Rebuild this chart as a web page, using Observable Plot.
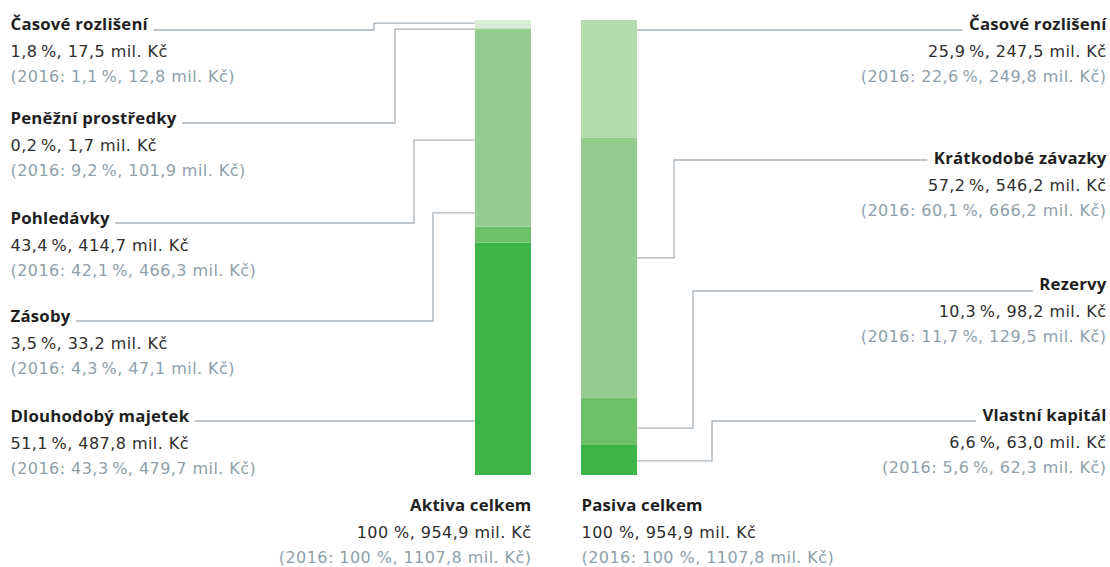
<!DOCTYPE html>
<html>
<head>
<meta charset="utf-8">
<script src="https://cdn.jsdelivr.net/npm/d3@7"></script>
<script src="https://cdn.jsdelivr.net/npm/@observablehq/plot@0.6"></script>
<style>
  html, body { margin: 0; padding: 0; background: #ffffff; }
  #chart { width: 1110px; height: 567px; }
  svg { font-family: "Open Sans", sans-serif; }
</style>
</head>
<body>
<div id="chart"></div>
<script>
// ---------- DATA (stack order: bottom to top) ----------
const sides = ["Aktiva", "Pasiva"];
const sideTitles = ["Aktiva celkem", "Pasiva celkem"];

const aktivaCategories = ["Dlouhodobý majetek", "Zásoby", "Pohledávky", "Peněžní prostředky", "Časové rozlišení"];
const aktivaShare      = [51.1, 3.5, 43.4, 0.2, 1.8];
const aktivaValue      = [487.8, 33.2, 414.7, 1.7, 17.5];
const aktivaShare2016  = [43.3, 4.3, 42.1, 9.2, 1.1];
const aktivaValue2016  = [479.7, 47.1, 466.3, 101.9, 12.8];

const pasivaCategories = ["Vlastní kapitál", "Rezervy", "Krátkodobé závazky", "Časové rozlišení"];
const pasivaShare      = [6.6, 10.3, 57.2, 25.9];
const pasivaValue      = [63.0, 98.2, 546.2, 247.5];
const pasivaShare2016  = [5.6, 11.7, 60.1, 22.6];
const pasivaValue2016  = [62.3, 129.5, 666.2, 249.8];

// ---------- STYLE ----------
const aktivaColors = ["#3bb54a", "#6cc067", "#93cc8c", "#b4dbae", "#d8ecd5"];
const pasivaColors = ["#3bb54a", "#6cc067", "#93cc8c", "#b4dbae"];
const titleColor = "#1f1f1f";
const valueColor = "#2e2e2e";
const oldColor = "#8e9fab";
const leaderColor = "#a7b3bb";
const titleFont = "Open Sans";
const titleSize = 16.8;
const titleSpacing = 0.2;
const bodyFont = "DejaVu Sans";
const bodySize = 16;
const bodySpacing = 0.45;

// ---------- LAYOUT (pixels / percent anchors) ----------
const W = 1110, H = 567;
const barRange = [474, 638];
const yRange = [475, 20];
const leftTextX = 10, rightTextX = 1106;
const leftBaseline  = [421, 321, 223, 123, 29];
const leftLeaderY   = [421, 321, 223, 123, 30];
const leftElbowX    = [null, 433, 414, 395, 374];
const leftAnchorPct = [null, 57.6, 73.6, 98.0, 99.3];
const rightBaseline  = [420, 289, 163, 29];
const rightLeaderY   = [421, 291, 160, 30];
const rightElbowX    = [712, 693, 674, null];
const rightAnchorPct = [3.1, 10.3, 47.7, null];
const totalBaseline = 510;
const totalX = [531, 581];
const lineStep1 = 27, lineStep2 = 52;

// ---------- helpers ----------
const num = v => v.toFixed(1).replace(".", ",");
const pct = v => num(v) + "\u2009%";
const line1 = (s, v) => `${pct(s)}, ${num(v)} mil. Kč`;
const line2 = (s, v) => `(2016: ${pct(s)}, ${num(v)} mil. Kč)`;
const totalLine1 = k => `${Math.round(d3.sum(k === "a" ? aktivaShare : pasivaShare))} %, ${num(d3.sum(k === "a" ? aktivaValue : pasivaValue))} mil. Kč`;
const totalLine2 = k => `(2016: ${Math.round(d3.sum(k === "a" ? aktivaShare2016 : pasivaShare2016))} %, ${num(d3.sum(k === "a" ? aktivaValue2016 : pasivaValue2016))} mil. Kč)`;

const rows = [
  ...aktivaCategories.map((c, i) => ({side: sides[0], category: c, share: aktivaShare[i], color: aktivaColors[i]})),
  ...pasivaCategories.map((c, i) => ({side: sides[1], category: c, share: pasivaShare[i], color: pasivaColors[i]}))
];

// text lines
const texts = [];
const addGroup = (title, l1, l2, x, y, a) => {
  texts.push({t: title, x, y, a, bold: true, f: titleColor});
  texts.push({t: l1, x, y: y + lineStep1, a, bold: false, f: valueColor});
  texts.push({t: l2, x, y: y + lineStep2, a, bold: false, f: oldColor});
};
aktivaCategories.forEach((c, i) =>
  addGroup(c, line1(aktivaShare[i], aktivaValue[i]), line2(aktivaShare2016[i], aktivaValue2016[i]), leftTextX, leftBaseline[i], "start"));
pasivaCategories.forEach((c, i) =>
  addGroup(c, line1(pasivaShare[i], pasivaValue[i]), line2(pasivaShare2016[i], pasivaValue2016[i]), rightTextX, rightBaseline[i], "end"));
["a", "p"].forEach((k, j) =>
  addGroup(sideTitles[j], totalLine1(k), totalLine2(k), totalX[j], totalBaseline, j === 0 ? "end" : "start"));

const textMarks = texts.map(d => Plot.text([d.t], {
  text: s => s, frameAnchor: "top-left", dx: d.x, dy: d.y,
  textAnchor: d.a, lineAnchor: "bottom",
  fontFamily: d.bold ? titleFont : bodyFont,
  fontSize: d.bold ? titleSize : bodySize,
  fontWeight: d.bold ? "bold" : "normal",
  fill: d.f
}));

// measure title widths for leader starts
const ctx = document.createElement("canvas").getContext("2d");
const measure = (t) => {
  ctx.font = `bold ${titleSize}px "${titleFont}"`;
  return ctx.measureText(t).width + titleSpacing * t.length;
};

function leaders(index, scales) {
  const g = d3.create("svg:g").attr("fill", "none").attr("stroke", leaderColor).attr("stroke-width", 1.3);
  const bw = scales.x.bandwidth ? scales.x.bandwidth() : 0;
  const leftBar = scales.x(sides[0]);
  const rightBar = scales.x(sides[1]) + bw;
  const gap = 6;
  aktivaCategories.forEach((c, i) => {
    const x0 = leftTextX + measure(c) + gap;
    const ly = leftLeaderY[i];
    let pts;
    if (leftElbowX[i] == null) pts = [[x0, ly], [leftBar, ly]];
    else {
      const ay = scales.y(leftAnchorPct[i]);
      pts = [[x0, ly], [leftElbowX[i], ly], [leftElbowX[i], ay], [leftBar, ay]];
    }
    g.append("path").attr("d", d3.line()(pts));
  });
  pasivaCategories.forEach((c, i) => {
    const x0 = rightTextX - measure(c) - gap;
    const ly = rightLeaderY[i];
    let pts;
    if (rightElbowX[i] == null) pts = [[x0, ly], [rightBar, ly]];
    else {
      const ay = scales.y(rightAnchorPct[i]);
      pts = [[x0, ly], [rightElbowX[i], ly], [rightElbowX[i], ay], [rightBar, ay]];
    }
    g.append("path").attr("d", d3.line()(pts));
  });
  return g.node();
}

const chart = Plot.plot({
  width: W, height: H,
  margin: 0,
  style: {background: "#ffffff", fontFamily: "'Open Sans', sans-serif"},
  x: {type: "band", domain: sides, range: barRange, paddingInner: 0.467, paddingOuter: 0, axis: null},
  y: {domain: [0, 100], range: yRange, axis: null},
  color: {type: "identity"},
  marks: [
    leaders,
    Plot.barY(rows, {x: "side", y: "share", fill: "color", order: null}),
    ...textMarks
  ]
});
// letter spacing: titles and body lines
d3.select(chart).selectAll("g[font-weight='bold'] text").attr("letter-spacing", titleSpacing);
d3.select(chart).selectAll("g[font-weight='normal'] text").attr("letter-spacing", bodySpacing);
document.getElementById("chart").appendChild(chart);
</script>
</body>
</html>
